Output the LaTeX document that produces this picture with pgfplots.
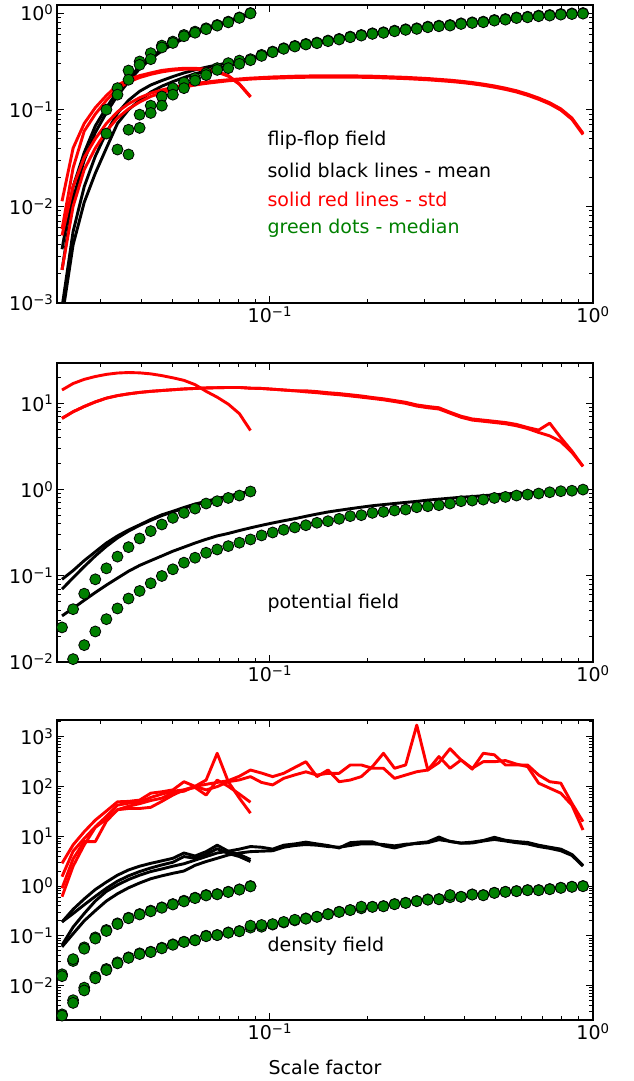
\documentclass[border=0pt]{standalone}
\usepackage{fontspec}
\setmainfont{DejaVu Sans}
\usepackage{pgfplots}
\usepackage{pgfplotstable}
\pgfplotsset{compat=1.18}
\definecolor{mplgreen}{rgb}{0,0.5,0}

\pgfplotstableread{
x bA bB rA rB gA gB
0.02275 0.0036 0.0022 0.0113 0.0058 nan nan
0.02462 0.016 0.012 0.04 0.025 nan nan
0.02665 0.036 0.030 0.072 0.06 nan nan
0.02884 0.068 0.058 0.105 0.09 nan nan
0.03121 0.105 0.093 0.14 0.125 0.1 nan
0.03378 0.155 0.14 0.18 0.165 0.167 0.143
0.03655 0.21 0.195 0.205 0.193 0.254 0.204
0.03956 0.28 0.265 0.225 0.215 0.315 0.291
0.04281 0.35 0.335 0.24 0.232 0.384 0.333
0.04633 0.42 0.405 0.255 0.246 0.46 0.44
0.05012 0.49 0.475 0.263 0.256 0.506 0.49
0.05424 0.56 0.545 0.268 0.262 0.593 0.575
0.0587 0.63 0.615 0.268 0.263 0.642 0.625
0.06352 0.69 0.68 0.262 0.258 0.695 0.68
0.06874 0.75 0.74 0.248 0.245 0.752 0.74
0.07439 0.82 0.81 0.225 0.222 0.814 0.80
0.08051 0.90 0.89 0.185 0.183 0.90 0.89
0.08712 0.99 0.98 0.137 0.135 1.0 0.99
}\ffS

\pgfplotstableread{
x bA bB rA rB gA gB
0.02275 0.0009 0.0007 0.005 0.0022 nan nan
0.02462 0.0055 0.004 0.016 0.01 nan nan
0.02665 0.016 0.011 0.032 0.024 nan nan
0.02884 0.033 0.022 0.05 0.04 nan nan
0.03121 0.058 0.04 0.072 0.06 0.0566 nan
0.03378 0.092 0.072 0.095 0.082 0.0387 nan
0.03655 0.125 0.1 0.115 0.102 0.062 0.0344
0.03956 0.155 0.125 0.133 0.12 0.0888 0.0648
0.04281 0.18 0.152 0.148 0.137 0.11 0.0925
0.04633 0.2 0.175 0.16 0.15 0.137 0.11
0.05012 0.22 0.195 0.17 0.162 0.167 0.143
0.05424 0.24 0.215 0.178 0.171 0.191 0.167
0.0587 0.258 0.235 0.186 0.18 0.212 0.2
0.06352 0.275 0.252 0.193 0.187 0.239 0.228
0.06874 0.29 0.268 0.199 0.193 0.269 0.258
0.07439 0.305 0.285 0.204 0.199 0.303 0.269
0.08051 0.32 0.305 0.208 0.203 0.322 0.298
0.08712 0.34 0.33 0.212 0.207 0.333 0.325
0.09428 0.365 0.36 0.215 0.21 0.369 0.36
0.10202 0.40 0.394 0.218 0.2115 0.399 0.393
0.1104 0.43 0.424 0.22 0.2134 0.432 0.426
0.1195 0.455 0.448 0.222 0.2153 0.457 0.45
0.1293 0.478 0.471 0.223 0.2163 0.479 0.472
0.1399 0.50 0.493 0.224 0.2173 0.494 0.487
0.1514 0.522 0.514 0.224 0.2173 0.519 0.511
0.1639 0.545 0.537 0.224 0.2173 0.54 0.532
0.1773 0.568 0.559 0.224 0.2173 0.57 0.561
0.1919 0.59 0.581 0.223 0.2163 0.593 0.584
0.2077 0.612 0.603 0.222 0.2153 0.617 0.608
0.2247 0.633 0.624 0.22 0.2134 0.632 0.623
0.2432 0.655 0.645 0.218 0.2115 0.657 0.647
0.2632 0.676 0.666 0.216 0.2095 0.679 0.669
0.2849 0.697 0.687 0.213 0.2066 0.695 0.685
0.3083 0.718 0.707 0.21 0.2037 0.723 0.712
0.3337 0.738 0.727 0.206 0.1998 0.74 0.729
0.3611 0.758 0.747 0.202 0.1959 0.752 0.741
0.3907 0.778 0.766 0.197 0.1911 0.782 0.77
0.4229 0.798 0.786 0.191 0.1853 0.801 0.789
0.4576 0.818 0.806 0.184 0.1785 0.814 0.802
0.4952 0.838 0.825 0.176 0.1707 0.847 0.834
0.5358 0.858 0.845 0.167 0.162 0.867 0.854
0.5799 0.878 0.865 0.157 0.1523 0.90 0.887
0.6275 0.898 0.885 0.145 0.1407 0.916 0.902
0.679 0.918 0.904 0.132 0.128 0.94 0.926
0.7348 0.938 0.924 0.118 0.1145 0.954 0.94
0.7952 0.958 0.944 0.102 0.0989 0.977 0.962
0.8605 0.978 0.963 0.082 0.0795 0.99 0.975
0.9313 0.995 0.98 0.057 0.0553 1.0 0.985
}\ffL

\pgfplotstableread{
x b1 b2 r1 g1
0.02275 0.091 0.07 14.3 0.0252
0.02462 0.115 0.095 17 0.041
0.02665 0.15 0.128 19 0.062
0.02884 0.19 0.17 20.5 0.091
0.03121 0.24 0.22 21.7 0.122
0.03378 0.29 0.275 22.5 0.167
0.03655 0.34 0.33 22.8 0.215
0.03956 0.39 0.385 22.6 0.271
0.04281 0.45 0.44 22 0.33
0.04633 0.51 0.50 21 0.394
0.05012 0.56 0.55 19.8 0.47
0.05424 0.62 0.61 18.5 0.537
0.0587 0.68 0.665 16.5 0.602
0.06352 0.73 0.715 13.8 0.689
0.06874 0.79 0.775 11.8 0.733
0.07439 0.84 0.825 9.8 0.80
0.08051 0.90 0.885 7.6 0.853
0.08712 0.96 0.945 4.85 0.95
}\poS

\pgfplotstableread{
x b1 r1 r2 g1
0.02275 0.0343 6.7 6.7 nan
0.02462 0.042 8.0 8.0 0.0108
0.02665 0.052 9.2 9.2 0.0157
0.02884 0.064 10.4 10.4 0.0226
0.03121 0.078 11.5 11.5 0.0314
0.03378 0.094 12.3 12.3 0.0418
0.03655 0.113 12.9 12.9 0.0545
0.03956 0.132 13.4 13.4 0.0667
0.04281 0.15 13.8 13.8 0.0819
0.04633 0.17 14.1 14.1 0.0995
0.05012 0.193 14.4 14.4 0.119
0.05424 0.215 14.7 14.7 0.142
0.0587 0.24 14.9 14.9 0.162
0.06352 0.265 15.1 15.1 0.185
0.06874 0.29 15.2 15.2 0.202
0.07439 0.31 15.3 15.3 0.221
0.08051 0.335 15.3 15.3 0.242
0.08712 0.36 15.0 15.0 0.264
0.09428 0.385 14.9 14.9 0.294
0.10202 0.41 14.6 14.6 0.318
0.1104 0.435 14.3 14.3 0.342
0.1195 0.46 14.0 14.0 0.364
0.1293 0.49 13.6 14.0 0.386
0.1399 0.52 13.3 13.7 0.412
0.1514 0.55 12.9 13.3 0.43
0.1639 0.575 12.6 13.0 0.458
0.1773 0.6 12.2 12.6 0.492
0.1919 0.625 11.8 12.2 0.505
0.2077 0.65 11.4 11.7 0.537
0.2247 0.67 11.0 11.3 0.552
0.2432 0.69 10.5 10.8 0.572
0.2632 0.71 10.0 10.3 0.587
0.2849 0.73 9.3 9.6 0.624
0.3083 0.755 8.9 9.2 0.641
0.3337 0.775 8.6 8.9 0.659
0.3611 0.795 7.7 7.9 0.689
0.3907 0.815 6.9 7.1 0.733
0.4229 0.83 6.4 6.6 0.746
0.4576 0.85 6.2 6.4 0.766
0.4952 0.87 6.0 6.2 0.80
0.5358 0.89 5.8 6.0 0.822
0.5799 0.905 5.5 5.7 0.853
0.6275 0.92 5.1 5.25 0.875
0.679 0.935 4.6 4.9 0.90
0.7348 0.95 4.2 5.9 0.931
0.7952 0.97 3.6 4.0 0.957
0.8605 0.985 2.7 2.8 0.97
0.9313 1.0 1.86 1.86 1.0
}\poL

\pgfplotstableread{
x bA bB rA rB gA gB
0.02275 0.19 0.19 2.85 0.9 0.0169 0.0155
0.02462 0.34 0.28 6.7 3.5 0.0312 0.034
0.02665 0.55 0.42 12.3 7.8 0.0587 0.055
0.02884 0.85 0.62 21 7.8 0.093 0.088
0.03121 1.2 0.9 32 20 0.131 0.125
0.03378 1.65 1.25 49 34 0.178 0.172
0.03655 2.1 1.6 50 36 0.231 0.225
0.03956 2.5 1.95 53 36 0.274 0.268
0.04281 2.85 2.3 73 38 0.32 0.31
0.04633 3.2 2.65 78 50 0.373 0.365
0.05012 3.6 3.0 85 67 0.435 0.425
0.05424 4.6 3.9 124 85 0.507 0.49
0.0587 4.0 3.6 100 95 0.583 0.57
0.06352 4.9 4.3 134 67 0.66 0.645
0.06874 6.6 5.6 462 134 0.69 0.68
0.07439 5.0 4.5 124 100 0.769 0.755
0.08051 4.3 3.9 58 70 0.857 0.845
0.08712 3.4 3.1 29 48 1.0 0.98
}\deS

\pgfplotstableread{
x bA bB rA rB gA gB
0.02275 0.065 0.06 1.54 0.61 0.00265 0.0025
0.02462 0.15 0.11 5 2.5 0.0051 0.0045
0.02665 0.28 0.2 9 6.7 0.0091 0.008
0.02884 0.5 0.32 15.5 15 0.0151 0.014
0.03121 0.78 0.5 25 22 0.0216 0.0205
0.03378 1.05 0.7 42 34 0.0293 0.028
0.03655 1.35 0.92 46 40 0.037 0.036
0.03956 1.65 1.15 48 45 0.0445 0.043
0.04281 1.95 1.4 60 52 0.048 0.047
0.04633 2.2 1.6 70 58 0.0578 0.056
0.05012 2.5 1.8 80 75 0.0675 0.066
0.05424 2.8 2.0 85 80 0.0762 0.075
0.0587 3.3 2.6 100 100 0.0824 0.081
0.06352 3.9 3.1 110 85 0.1005 0.098
0.06874 4.6 3.6 120 99 0.104 0.103
0.07439 5.0 4.2 130 124 0.117 0.115
0.08051 5.5 4.6 160 135 0.125 0.123
0.08712 6.2 4.9 213 157 0.146 0.16
0.09428 6.0 5.0 185 120 0.152 0.165
0.10202 5.5 5.1 157 107 0.168 0.172
0.1104 6.6 6.0 183 145 0.185 0.19
0.1195 7.0 6.5 240 170 0.204 0.21
0.1293 7.6 6.8 313 196 0.224 0.22
0.1399 7.0 6.6 157 169 0.242 0.24
0.1514 6.5 6.2 213 183 0.274 0.27
0.1639 5.8 6.0 124 183 0.305 0.30
0.1773 7.4 6.5 134 269 0.33 0.328
0.1919 7.7 7.0 157 269 0.356 0.385
0.2077 7.7 7.0 249 231 0.384 0.38
0.2247 6.4 6.8 462 231 0.396 0.39
0.2432 5.8 6.4 231 145 0.435 0.43
0.2632 6.6 6.9 269 169 0.462 0.455
0.2849 7.3 7.1 1700 197 0.50 0.495
0.3083 7.7 7.4 213 213 0.54 0.53
0.3337 9.6 8.5 397 300 0.548 0.54
0.3611 7.8 7.9 231 570 0.593 0.66
0.3907 7.3 7.2 339 339 0.61 0.605
0.4229 7.6 7.3 222 231 0.68 0.67
0.4576 8.2 8.0 462 313 0.66 0.65
0.4952 9.5 8.6 430 313 0.734 0.725
0.5358 8.3 8.0 269 330 0.769 0.76
0.5799 7.8 7.4 269 280 0.794 0.785
0.6275 7.5 7.0 269 249 0.83 0.82
0.679 6.6 6.2 169 116 0.83 0.82
0.7348 6.0 5.7 124 92 0.87 0.86
0.7952 5.5 5.1 116 73 0.926 0.915
0.8605 4.3 4.1 45.8 42 0.97 0.96
0.9313 2.6 2.5 19.6 13.3 1.0 0.99
}\deL

\pgfplotsset{
  mypanel/.style={
    scale only axis, width=536pt, anchor=north west,
    xmin=0.02195, xmax=1,
    xtick={0.1,1},
    xticklabels={10\textsuperscript{−1},10\textsuperscript{0}},
    minor xtick={0.03,0.04,0.05,0.06,0.07,0.08,0.09,0.2,0.3,0.4,0.5,0.6,0.7,0.8,0.9},
    tick align=inside,
    major tick length=7pt, minor tick length=4pt,
    every tick/.style={black, line width=0.9pt},
    axis line style={line width=1.1pt},
    unbounded coords=jump,
  },
  blk/.style={black, line width=2.9pt, line join=round, no markers},
  rd/.style={red, line width=2.9pt, line join=round, no markers},
  dots/.style={only marks, mark=*, mark size=5.5pt,
    mark options={fill=mplgreen, draw=black, line width=0.8pt}},
}

\begin{document}
\begin{tikzpicture}[font=\fontsize{19}{23}\selectfont]
\path[use as bounding box] (0,0) rectangle (633pt,-1081pt);

% Panel 1: flip-flop field
\begin{loglogaxis}[mypanel, at={(57pt,-5pt)}, height=298pt,
  ymin=1e-3, ymax=1.21,
  ytick={0.001,0.01,0.1,1},
  yticklabels={10\textsuperscript{−3},10\textsuperscript{−2},10\textsuperscript{−1},10\textsuperscript{0}},
  minor ytick={0.002,0.003,0.004,0.005,0.006,0.007,0.008,0.009,0.02,0.03,0.04,0.05,0.06,0.07,0.08,0.09,0.2,0.3,0.4,0.5,0.6,0.7,0.8,0.9},
]
\addplot[blk] table[x=x,y=bA]{\ffS};
\addplot[blk] table[x=x,y=bB]{\ffS};
\addplot[blk] table[x=x,y=bA]{\ffL};
\addplot[blk] table[x=x,y=bB]{\ffL};
\addplot[rd] table[x=x,y=rA]{\ffS};
\addplot[rd] table[x=x,y=rB]{\ffS};
\addplot[rd] table[x=x,y=rA]{\ffL};
\addplot[rd] table[x=x,y=rB]{\ffL};
\addplot[dots] table[x=x,y=gA]{\ffS};
\addplot[dots] table[x=x,y=gB]{\ffS};
\addplot[dots] table[x=x,y=gA]{\ffL};
\addplot[dots] table[x=x,y=gB]{\ffL};
\end{loglogaxis}

% Panel 2: potential field
\begin{loglogaxis}[mypanel, at={(57pt,-363pt)}, height=299pt,
  ymin=0.01, ymax=29.4,
  ytick={0.01,0.1,1,10},
  yticklabels={10\textsuperscript{−2},10\textsuperscript{−1},10\textsuperscript{0},10\textsuperscript{1}},
  minor ytick={0.02,0.03,0.04,0.05,0.06,0.07,0.08,0.09,0.2,0.3,0.4,0.5,0.6,0.7,0.8,0.9,2,3,4,5,6,7,8,9,20},
]
\addplot[blk] table[x=x,y=b1]{\poS};
\addplot[blk] table[x=x,y=b2]{\poS};
\addplot[blk] table[x=x,y=b1]{\poL};
\addplot[rd] table[x=x,y=r1]{\poS};
\addplot[rd] table[x=x,y=r1]{\poL};
\addplot[rd] table[x=x,y=r2]{\poL};
\addplot[dots] table[x=x,y=g1]{\poS};
\addplot[dots] table[x=x,y=g1]{\poL};
\end{loglogaxis}

% Panel 3: density field
\begin{loglogaxis}[mypanel, at={(57pt,-720pt)}, height=300pt,
  ymin=0.00204, ymax=2150,
  ytick={0.01,0.1,1,10,100,1000},
  yticklabels={10\textsuperscript{−2},10\textsuperscript{−1},10\textsuperscript{0},10\textsuperscript{1},10\textsuperscript{2},10\textsuperscript{3}},
  minor ytick={0.003,0.004,0.005,0.006,0.007,0.008,0.009,0.02,0.03,0.04,0.05,0.06,0.07,0.08,0.09,0.2,0.3,0.4,0.5,0.6,0.7,0.8,0.9,2,3,4,5,6,7,8,9,20,30,40,50,60,70,80,90,200,300,400,500,600,700,800,900,2000},
]
\addplot[blk] table[x=x,y=bA]{\deS};
\addplot[blk] table[x=x,y=bB]{\deS};
\addplot[blk] table[x=x,y=bA]{\deL};
\addplot[blk] table[x=x,y=bB]{\deL};
\addplot[rd] table[x=x,y=rA]{\deS};
\addplot[rd] table[x=x,y=rB]{\deS};
\addplot[rd] table[x=x,y=rA]{\deL};
\addplot[rd] table[x=x,y=rB]{\deL};
\addplot[dots] table[x=x,y=gA]{\deS};
\addplot[dots] table[x=x,y=gB]{\deS};
\addplot[dots] table[x=x,y=gA]{\deL};
\addplot[dots] table[x=x,y=gB]{\deL};
\end{loglogaxis}

\node[anchor=west] at (264pt,-140pt) {flip-flop field};
\node[anchor=west] at (264pt,-170pt) {solid black lines - mean};
\node[anchor=west, text=red] at (264pt,-199pt) {solid red lines - std};
\node[anchor=west, text=mplgreen] at (264pt,-228pt) {green dots - median};
\node[anchor=west] at (264pt,-603pt) {potential field};
\node[anchor=west] at (264pt,-946pt) {density field};
\node at (325pt,-1067pt) {Scale factor};
\end{tikzpicture}
\end{document}
